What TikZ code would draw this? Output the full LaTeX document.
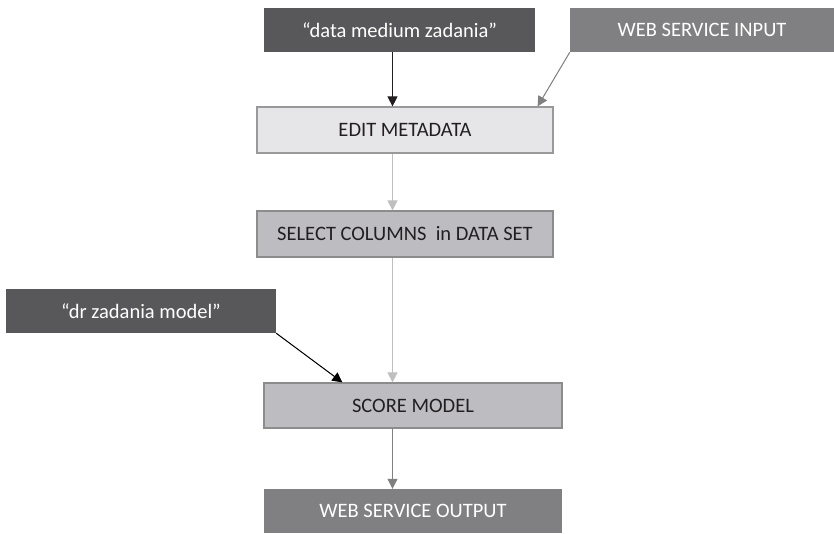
\documentclass[tikz,border=0pt]{standalone}
\usepackage{fontspec}
\setmainfont{Carlito}
\usetikzlibrary{arrows.meta,calc}
\definecolor{darkbox}{HTML}{58585A}
\definecolor{midbox}{HTML}{808083}
\definecolor{lightbox}{HTML}{E6E6E8}
\definecolor{greybox}{HTML}{BDBDC1}
\definecolor{txt}{HTML}{231F20}
\tikzset{
  boxbase/.style={rectangle, inner sep=0pt, font=\fontsize{20.5}{24}\selectfont},
  darknode/.style={boxbase, fill=darkbox, text=white},
  midnode/.style={boxbase, fill=midbox, text=white},
  lightnode/.style={boxbase, fill=lightbox, draw=black!40, line width=1.2pt, text=txt},
  greynode/.style={boxbase, fill=greybox, draw=black!45, line width=1.2pt, text=txt},
  conn/.style={line width=1pt, -{Triangle[length=10pt,width=10pt]}},
}
\begin{document}
\begin{tikzpicture}[x=1pt,y=-1pt]
\useasboundingbox (0,0) rectangle (834,533);
\node[darknode, minimum width=271pt, minimum height=44pt] (dm) at (399.5,30) {“data medium zadania”};
\node[midnode, minimum width=264pt, minimum height=44pt] (wsi) at (702,30) {WEB SERVICE INPUT};
\node[lightnode, minimum width=296pt, minimum height=46pt] (edit) at (405,130) {EDIT METADATA};
\node[greynode, minimum width=296pt, minimum height=46pt] (sel) at (405,234) {SELECT COLUMNS\ \ in DATA SET};
\node[darknode, minimum width=270pt, minimum height=44pt] (dr) at (141,311) {“dr zadania model”};
\node[greynode, minimum width=298pt, minimum height=45pt] (score) at (413,405.5) {SCORE MODEL};
\node[midnode, minimum width=298pt, minimum height=44pt] (wso) at (413,511) {WEB SERVICE OUTPUT};
\coordinate (ax) at (392.5,0);
\draw[conn, draw=txt, fill=txt] (dm.south -| ax) -- (edit.north -| ax);
\draw[conn, draw=black!50, fill=black!50] (wsi.south west) -- ($(edit.north east)+(-16,0)$);
\draw[conn, draw=black!25, fill=black!25] (edit.south -| ax) -- (sel.north -| ax);
\draw[conn, draw=black!25, fill=black!25] (sel.south -| ax) -- (score.north -| ax);
\draw[conn, draw=black!50, fill=black!50] (score.south -| ax) -- (wso.north -| ax);
\draw[conn, draw=black, fill=black] (dr.south east) -- ($(score.north west)+(79,0)$);
\end{tikzpicture}
\end{document}
